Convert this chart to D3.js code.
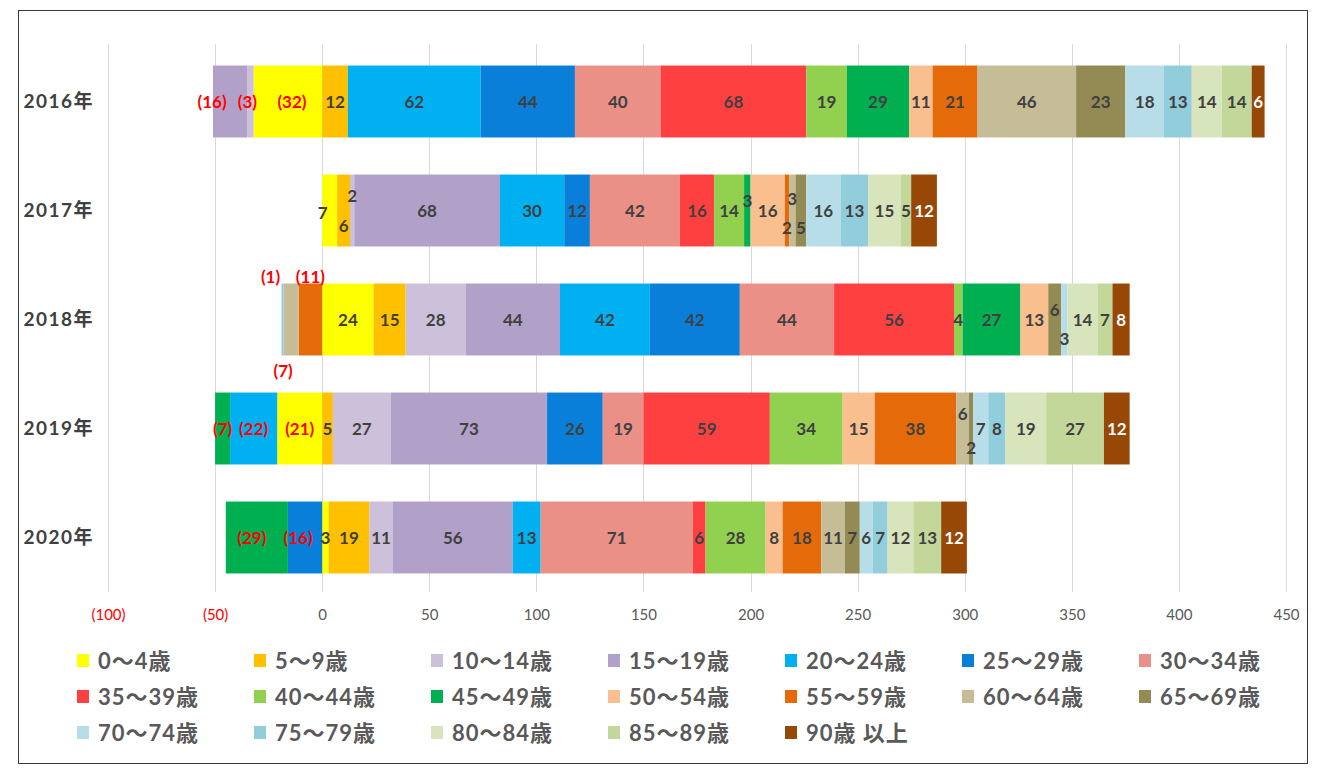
<!DOCTYPE html>
<html>
<head>
<meta charset="utf-8">
<script src="https://cdn.jsdelivr.net/npm/d3@7"></script>
<style>
  html, body { margin: 0; padding: 0; background: #fff; }
  svg { display: block; }
</style>
</head>
<body>
<svg id="chart" width="1322" height="774"></svg>
<script>
// Year-on-year change in population by age group (negatives shown in parentheses)
const years = ["2016年", "2017年", "2018年", "2019年", "2020年"];
const ageGroups = ["0～4歳", "5～9歳", "10～14歳", "15～19歳", "20～24歳", "25～29歳", "30～34歳",
  "35～39歳", "40～44歳", "45～49歳", "50～54歳", "55～59歳", "60～64歳", "65～69歳",
  "70～74歳", "75～79歳", "80～84歳", "85～89歳", "90歳 以上"];
const colors = ["#FFFF00", "#FFC000", "#CCC0DA", "#B1A0C7", "#00B0F0", "#0A7FD9", "#EA9087",
  "#FF4040", "#92D050", "#00B050", "#FABF8F", "#E56B0A", "#C4BD97", "#948A54",
  "#B7DEE8", "#92CDDC", "#D8E4BC", "#C4D79B", "#974706"];

// values per year, in the same order as ageGroups
const values2016 = [-32, 12, -3, -16, 62, 44, 40, 68, 19, 29, 11, 21, 46, 23, 18, 13, 14, 14, 6];
const values2017 = [7, 6, 2, 68, 30, 12, 42, 16, 14, 3, 16, 2, 3, 5, 16, 13, 15, 5, 12];
const values2018 = [24, 15, 28, 44, 42, 42, 44, 56, 4, 27, 13, -11, -7, 6, 3, -1, 14, 7, 8];
const values2019 = [-21, 5, 27, 73, -22, 26, 19, 59, 34, -7, 15, 38, 6, 2, 7, 8, 19, 27, 12];
const values2020 = [3, 19, 11, 56, 13, -16, 71, 6, 28, -29, 8, 18, 11, 7, 6, 7, 12, 13, 12];
const seriesByYear = [values2016, values2017, values2018, values2019, values2020];

const xTicks = [-100, -50, 0, 50, 100, 150, 200, 250, 300, 350, 400, 450];

// nudges for crowded data labels: key "yearIndex-groupIndex" -> [dx, dy]
const labelNudge = {
  "0-3": [-18, 0], "0-2": [-3, 0], "0-0": [4, 0],
  "1-0": [-7, 2], "1-1": [0, 15], "1-2": [0, -15], "1-9": [0, -10],
  "1-11": [0, 17], "1-12": [0, -12], "1-13": [0, 17],
  "2-15": [-12, -43], "2-11": [0, -43], "2-12": [-8, 51],
  "2-13": [0, -10], "2-14": [0, 19],
  "3-12": [0, -15], "3-13": [0, 19],
  "4-9": [-5, 0], "4-5": [-7, 0]
};

const table = years.map((y, i) => {
  const row = { year: y };
  ageGroups.forEach((g, j) => { row[g] = seriesByYear[i][j]; });
  return row;
});

const svg = d3.select("#chart");
const font = "Lato, 'Noto Sans CJK JP', sans-serif";

// outer frame
svg.append("rect")
  .attr("x", 18.5).attr("y", 10.5).attr("width", 1289).attr("height", 753)
  .attr("fill", "#fff").attr("stroke", "#3a3a3a").attr("stroke-width", 1);

const x = d3.scaleLinear().domain([-100, 450]).range([108, 1286]);
const y = d3.scaleBand().domain(years).range([47, 592]).paddingInner(0.34).paddingOuter(0.17);

// vertical gridlines
svg.append("g")
  .selectAll("line")
  .data(xTicks)
  .join("line")
  .attr("x1", d => Math.round(x(d)) + 0.5)
  .attr("x2", d => Math.round(x(d)) + 0.5)
  .attr("y1", 44).attr("y2", 592)
  .attr("stroke", "#d9d9d9").attr("stroke-width", 1);

// x axis tick labels
const xAxis = d3.axisBottom(x)
  .tickValues(xTicks)
  .tickSize(0)
  .tickFormat(d => d < 0 ? `(${-d})` : d);
const gx = svg.append("g").attr("transform", "translate(0,606)").call(xAxis);
gx.select(".domain").remove();
gx.selectAll("text")
  .attr("font-family", font)
  .attr("font-size", 15)
  .attr("fill", d => d < 0 ? "#FF0000" : "#595959");

// year labels
const yAxis = d3.axisLeft(y).tickSize(0).tickPadding(0);
const gy = svg.append("g").attr("transform", "translate(94,0)").call(yAxis);
gy.select(".domain").remove();
gy.selectAll("text")
  .attr("font-family", font)
  .attr("font-size", 19)
  .attr("font-weight", "bold")
  .attr("letter-spacing", 1.5)
  .attr("fill", "#404040");

// stacked bars, negatives stacked to the left of zero
const stack = d3.stack().keys(ageGroups).offset(d3.stackOffsetDiverging);
const layers = stack(table);

const layerG = svg.append("g")
  .selectAll("g")
  .data(layers)
  .join("g")
  .attr("fill", (d, i) => colors[i]);

layerG.selectAll("rect")
  .data(d => d.map(seg => ({ seg, key: d.key })))
  .join("rect")
  .attr("x", d => x(Math.min(d.seg[0], d.seg[1])))
  .attr("width", d => Math.abs(x(d.seg[1]) - x(d.seg[0])))
  .attr("y", d => y(d.seg.data.year))
  .attr("height", y.bandwidth());

// data labels
const labels = [];
layers.forEach((layer, j) => {
  layer.forEach((seg, i) => {
    const v = seg.data[layer.key];
    if (v === 0) return;
    const nudge = labelNudge[`${i}-${j}`] || [0, 0];
    labels.push({
      v, j,
      cx: x((seg[0] + seg[1]) / 2) + nudge[0],
      cy: y(seg.data.year) + y.bandwidth() / 2 + nudge[1]
    });
  });
});

svg.append("g")
  .selectAll("text")
  .data(labels)
  .join("text")
  .attr("x", d => d.cx)
  .attr("y", d => d.cy)
  .attr("text-anchor", "middle")
  .attr("dominant-baseline", "central")
  .attr("font-family", font)
  .attr("font-size", 17)
  .attr("font-weight", "bold")
  .attr("fill", d => d.v < 0 ? "#FF0000" : (d.j === ageGroups.length - 1 ? "#FFFFFF" : "#404040"))
  .text(d => d.v < 0 ? `(${-d.v})` : d.v);

// legend: 7 columns, 3 rows
const legend = svg.append("g")
  .selectAll("g")
  .data(ageGroups)
  .join("g")
  .attr("transform", (d, i) => `translate(${77 + (i % 7) * 177},${660 + Math.floor(i / 7) * 36})`);

legend.append("rect")
  .attr("x", 0).attr("y", -6).attr("width", 12).attr("height", 13)
  .attr("fill", (d, i) => colors[i]);

legend.append("text")
  .attr("x", 21).attr("y", 0)
  .attr("dominant-baseline", "central")
  .attr("font-family", font)
  .attr("font-size", 22)
  .attr("font-weight", "bold")
  .attr("letter-spacing", 1)
  .attr("fill", "#595959")
  .text(d => d);
</script>
</body>
</html>
